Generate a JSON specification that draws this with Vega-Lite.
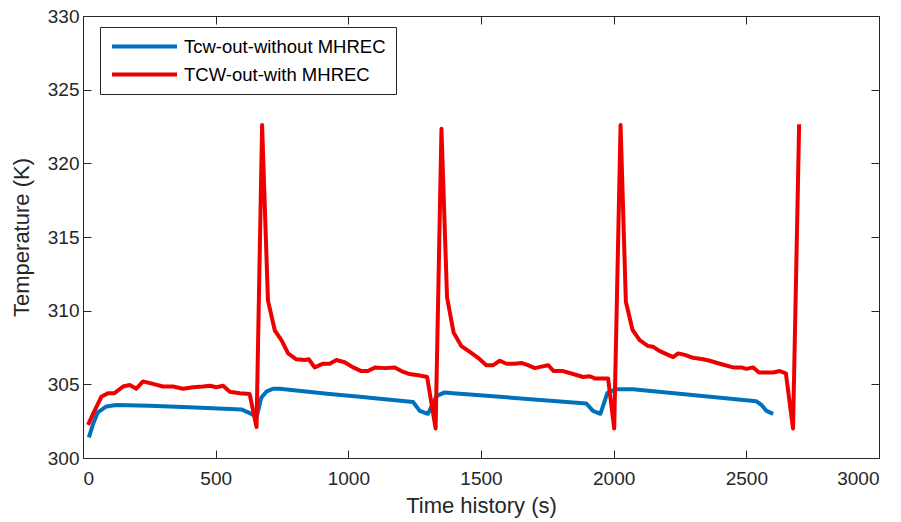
{
  "$schema": "https://vega.github.io/schema/vega-lite/v6.json",
  "autosize": "none",
  "width": 796,
  "height": 442,
  "padding": {"left": 83, "top": 16, "right": 22, "bottom": 64},
  "background": "white",
  "config": {
    "font": "Liberation Sans",
    "view": {"stroke": "#262626", "strokeWidth": 1},
    "axis": {
      "grid": false,
      "domain": false,
      "tickColor": "#262626",
      "tickSize": -8,
      "tickWidth": 1,
      "labelColor": "#262626",
      "labelFont": "Liberation Sans",
      "labelFontSize": 19,
      "titleColor": "#262626",
      "titleFont": "Liberation Sans",
      "titleFontSize": 22,
      "titleFontWeight": "normal"
    }
  },
  "data": {
    "values": [
      {"t": 22, "T": 301.4, "s": "Tcw-out-without MHREC"},
      {"t": 38, "T": 302.3, "s": "Tcw-out-without MHREC"},
      {"t": 56, "T": 303.1, "s": "Tcw-out-without MHREC"},
      {"t": 88, "T": 303.5, "s": "Tcw-out-without MHREC"},
      {"t": 126, "T": 303.6, "s": "Tcw-out-without MHREC"},
      {"t": 250, "T": 303.55, "s": "Tcw-out-without MHREC"},
      {"t": 400, "T": 303.45, "s": "Tcw-out-without MHREC"},
      {"t": 597, "T": 303.3, "s": "Tcw-out-without MHREC"},
      {"t": 635, "T": 303.0, "s": "Tcw-out-without MHREC"},
      {"t": 654, "T": 302.75, "s": "Tcw-out-without MHREC"},
      {"t": 672, "T": 304.1, "s": "Tcw-out-without MHREC"},
      {"t": 691, "T": 304.5, "s": "Tcw-out-without MHREC"},
      {"t": 716, "T": 304.7, "s": "Tcw-out-without MHREC"},
      {"t": 741, "T": 304.7, "s": "Tcw-out-without MHREC"},
      {"t": 930, "T": 304.35, "s": "Tcw-out-without MHREC"},
      {"t": 1043, "T": 304.15, "s": "Tcw-out-without MHREC"},
      {"t": 1244, "T": 303.8, "s": "Tcw-out-without MHREC"},
      {"t": 1269, "T": 303.2, "s": "Tcw-out-without MHREC"},
      {"t": 1300, "T": 303.0, "s": "Tcw-out-without MHREC"},
      {"t": 1332, "T": 304.2, "s": "Tcw-out-without MHREC"},
      {"t": 1363, "T": 304.45, "s": "Tcw-out-without MHREC"},
      {"t": 1395, "T": 304.4, "s": "Tcw-out-without MHREC"},
      {"t": 1897, "T": 303.7, "s": "Tcw-out-without MHREC"},
      {"t": 1922, "T": 303.2, "s": "Tcw-out-without MHREC"},
      {"t": 1950, "T": 303.0, "s": "Tcw-out-without MHREC"},
      {"t": 1976, "T": 304.4, "s": "Tcw-out-without MHREC"},
      {"t": 2006, "T": 304.66, "s": "Tcw-out-without MHREC"},
      {"t": 2073, "T": 304.67, "s": "Tcw-out-without MHREC"},
      {"t": 2538, "T": 303.85, "s": "Tcw-out-without MHREC"},
      {"t": 2557, "T": 303.6, "s": "Tcw-out-without MHREC"},
      {"t": 2576, "T": 303.2, "s": "Tcw-out-without MHREC"},
      {"t": 2601, "T": 303.0, "s": "Tcw-out-without MHREC"},
      {"t": 19, "T": 302.25, "s": "TCW-out-with MHREC"},
      {"t": 38, "T": 303.0, "s": "TCW-out-with MHREC"},
      {"t": 69, "T": 304.15, "s": "TCW-out-with MHREC"},
      {"t": 94, "T": 304.4, "s": "TCW-out-with MHREC"},
      {"t": 119, "T": 304.4, "s": "TCW-out-with MHREC"},
      {"t": 151, "T": 304.85, "s": "TCW-out-with MHREC"},
      {"t": 176, "T": 304.95, "s": "TCW-out-with MHREC"},
      {"t": 201, "T": 304.7, "s": "TCW-out-with MHREC"},
      {"t": 226, "T": 305.2, "s": "TCW-out-with MHREC"},
      {"t": 264, "T": 305.03, "s": "TCW-out-with MHREC"},
      {"t": 301, "T": 304.85, "s": "TCW-out-with MHREC"},
      {"t": 339, "T": 304.85, "s": "TCW-out-with MHREC"},
      {"t": 377, "T": 304.7, "s": "TCW-out-with MHREC"},
      {"t": 415, "T": 304.8, "s": "TCW-out-with MHREC"},
      {"t": 452, "T": 304.85, "s": "TCW-out-with MHREC"},
      {"t": 478, "T": 304.9, "s": "TCW-out-with MHREC"},
      {"t": 503, "T": 304.8, "s": "TCW-out-with MHREC"},
      {"t": 528, "T": 304.9, "s": "TCW-out-with MHREC"},
      {"t": 553, "T": 304.5, "s": "TCW-out-with MHREC"},
      {"t": 591, "T": 304.4, "s": "TCW-out-with MHREC"},
      {"t": 628, "T": 304.35, "s": "TCW-out-with MHREC"},
      {"t": 654, "T": 302.1, "s": "TCW-out-with MHREC"},
      {"t": 675, "T": 322.6, "s": "TCW-out-with MHREC"},
      {"t": 697, "T": 310.7, "s": "TCW-out-with MHREC"},
      {"t": 723, "T": 308.65, "s": "TCW-out-with MHREC"},
      {"t": 748, "T": 308.0, "s": "TCW-out-with MHREC"},
      {"t": 773, "T": 307.1, "s": "TCW-out-with MHREC"},
      {"t": 804, "T": 306.7, "s": "TCW-out-with MHREC"},
      {"t": 836, "T": 306.65, "s": "TCW-out-with MHREC"},
      {"t": 851, "T": 306.7, "s": "TCW-out-with MHREC"},
      {"t": 873, "T": 306.15, "s": "TCW-out-with MHREC"},
      {"t": 905, "T": 306.4, "s": "TCW-out-with MHREC"},
      {"t": 930, "T": 306.4, "s": "TCW-out-with MHREC"},
      {"t": 955, "T": 306.65, "s": "TCW-out-with MHREC"},
      {"t": 986, "T": 306.5, "s": "TCW-out-with MHREC"},
      {"t": 1018, "T": 306.15, "s": "TCW-out-with MHREC"},
      {"t": 1049, "T": 305.9, "s": "TCW-out-with MHREC"},
      {"t": 1074, "T": 305.9, "s": "TCW-out-with MHREC"},
      {"t": 1100, "T": 306.15, "s": "TCW-out-with MHREC"},
      {"t": 1137, "T": 306.1, "s": "TCW-out-with MHREC"},
      {"t": 1175, "T": 306.15, "s": "TCW-out-with MHREC"},
      {"t": 1200, "T": 305.9, "s": "TCW-out-with MHREC"},
      {"t": 1231, "T": 305.7, "s": "TCW-out-with MHREC"},
      {"t": 1269, "T": 305.6, "s": "TCW-out-with MHREC"},
      {"t": 1297, "T": 305.5, "s": "TCW-out-with MHREC"},
      {"t": 1329, "T": 302.0, "s": "TCW-out-with MHREC"},
      {"t": 1351, "T": 322.35, "s": "TCW-out-with MHREC"},
      {"t": 1372, "T": 310.9, "s": "TCW-out-with MHREC"},
      {"t": 1397, "T": 308.5, "s": "TCW-out-with MHREC"},
      {"t": 1426, "T": 307.6, "s": "TCW-out-with MHREC"},
      {"t": 1458, "T": 307.2, "s": "TCW-out-with MHREC"},
      {"t": 1489, "T": 306.8, "s": "TCW-out-with MHREC"},
      {"t": 1520, "T": 306.3, "s": "TCW-out-with MHREC"},
      {"t": 1546, "T": 306.3, "s": "TCW-out-with MHREC"},
      {"t": 1571, "T": 306.6, "s": "TCW-out-with MHREC"},
      {"t": 1596, "T": 306.4, "s": "TCW-out-with MHREC"},
      {"t": 1627, "T": 306.4, "s": "TCW-out-with MHREC"},
      {"t": 1652, "T": 306.45, "s": "TCW-out-with MHREC"},
      {"t": 1677, "T": 306.3, "s": "TCW-out-with MHREC"},
      {"t": 1703, "T": 306.1, "s": "TCW-out-with MHREC"},
      {"t": 1728, "T": 306.2, "s": "TCW-out-with MHREC"},
      {"t": 1753, "T": 306.3, "s": "TCW-out-with MHREC"},
      {"t": 1774, "T": 305.9, "s": "TCW-out-with MHREC"},
      {"t": 1809, "T": 305.9, "s": "TCW-out-with MHREC"},
      {"t": 1847, "T": 305.7, "s": "TCW-out-with MHREC"},
      {"t": 1885, "T": 305.5, "s": "TCW-out-with MHREC"},
      {"t": 1910, "T": 305.55, "s": "TCW-out-with MHREC"},
      {"t": 1929, "T": 305.4, "s": "TCW-out-with MHREC"},
      {"t": 1950, "T": 305.4, "s": "TCW-out-with MHREC"},
      {"t": 1979, "T": 305.4, "s": "TCW-out-with MHREC"},
      {"t": 2002, "T": 302.0, "s": "TCW-out-with MHREC"},
      {"t": 2026, "T": 322.6, "s": "TCW-out-with MHREC"},
      {"t": 2046, "T": 310.6, "s": "TCW-out-with MHREC"},
      {"t": 2071, "T": 308.7, "s": "TCW-out-with MHREC"},
      {"t": 2098, "T": 308.0, "s": "TCW-out-with MHREC"},
      {"t": 2130, "T": 307.6, "s": "TCW-out-with MHREC"},
      {"t": 2148, "T": 307.55, "s": "TCW-out-with MHREC"},
      {"t": 2174, "T": 307.25, "s": "TCW-out-with MHREC"},
      {"t": 2224, "T": 306.85, "s": "TCW-out-with MHREC"},
      {"t": 2243, "T": 307.1, "s": "TCW-out-with MHREC"},
      {"t": 2268, "T": 307.0, "s": "TCW-out-with MHREC"},
      {"t": 2299, "T": 306.8, "s": "TCW-out-with MHREC"},
      {"t": 2337, "T": 306.7, "s": "TCW-out-with MHREC"},
      {"t": 2362, "T": 306.6, "s": "TCW-out-with MHREC"},
      {"t": 2400, "T": 306.4, "s": "TCW-out-with MHREC"},
      {"t": 2450, "T": 306.15, "s": "TCW-out-with MHREC"},
      {"t": 2481, "T": 306.15, "s": "TCW-out-with MHREC"},
      {"t": 2500, "T": 306.05, "s": "TCW-out-with MHREC"},
      {"t": 2525, "T": 306.15, "s": "TCW-out-with MHREC"},
      {"t": 2548, "T": 305.8, "s": "TCW-out-with MHREC"},
      {"t": 2576, "T": 305.8, "s": "TCW-out-with MHREC"},
      {"t": 2601, "T": 305.8, "s": "TCW-out-with MHREC"},
      {"t": 2626, "T": 305.9, "s": "TCW-out-with MHREC"},
      {"t": 2649, "T": 305.75, "s": "TCW-out-with MHREC"},
      {"t": 2676, "T": 302.0, "s": "TCW-out-with MHREC"},
      {"t": 2699, "T": 322.65, "s": "TCW-out-with MHREC"}
    ]
  },
  "layer": [
    {
      "mark": {"type": "line", "strokeWidth": 4, "strokeJoin": "round", "strokeCap": "butt"},
      "encoding": {
        "x": {
          "field": "t", "type": "quantitative",
          "scale": {"domain": [0, 3000], "nice": false},
          "axis": {"orient": "bottom", "values": [0, 500, 1000, 1500, 2000, 2500, 3000], "format": "d", "labelPadding": 19, "title": "Time history (s)", "titlePadding": 7}
        },
        "y": {
          "field": "T", "type": "quantitative",
          "scale": {"domain": [300, 330], "nice": false, "zero": false},
          "axis": {"orient": "left", "values": [300, 305, 310, 315, 320, 325, 330], "labelPadding": 12, "title": "Temperature (K)", "titlePadding": 14}
        },
        "color": {
          "field": "s", "type": "nominal",
          "scale": {"domain": ["Tcw-out-without MHREC", "TCW-out-with MHREC"], "range": ["#0072BD", "#EE0000"]},
          "legend": {
            "title": null,
            "orient": "none",
            "legendX": 17,
            "legendY": 11,
            "symbolType": "stroke",
            "symbolSize": 4225,
            "symbolStrokeWidth": 4,
            "clipHeight": 19,
            "labelFontSize": 18.5,
            "labelFont": "Liberation Sans",
            "labelColor": "#000000",
            "labelLimit": 400,
            "labelOffset": 5,
            "rowPadding": 9,
            "padding": 10,
            "strokeColor": "#262626",
            "fillColor": "white"
          }
        },
        "order": {"field": "t", "type": "quantitative"}
      }
    },
    {
      "mark": {"type": "line", "opacity": 0},
      "encoding": {
        "x": {
          "field": "t", "type": "quantitative",
          "axis": {"orient": "top", "values": [0, 500, 1000, 1500, 2000, 2500, 3000], "labels": false, "title": null}
        },
        "y": {
          "field": "T", "type": "quantitative",
          "axis": {"orient": "right", "values": [300, 305, 310, 315, 320, 325, 330], "labels": false, "title": null}
        },
        "detail": {"field": "s", "type": "nominal"}
      }
    }
  ],
  "resolve": {"axis": {"x": "independent", "y": "independent"}}
}
